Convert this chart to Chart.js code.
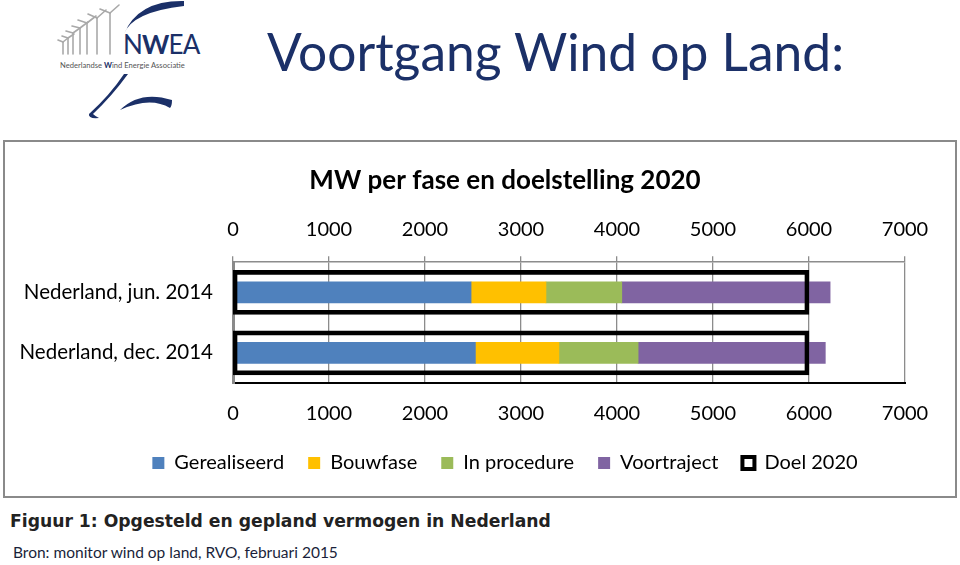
<!DOCTYPE html>
<html>
<head>
<meta charset="utf-8">
<script src="https://cdn.jsdelivr.net/npm/chart.js@4.4.1/dist/chart.umd.min.js"></script>
<style>
  html, body { margin: 0; padding: 0; background: #fff; }
  body { width: 960px; height: 565px; position: relative; overflow: hidden; font-family: Lato, "Open Sans", sans-serif; }
  #logo { position: absolute; left: 0; top: 0; }
  #pageTitle { position: absolute; left: 267px; top: 26px; margin: 0; font-weight: 400; font-size: 51.5px; line-height: 1; color: #1b3068; white-space: nowrap; }
  #chartBox { position: absolute; left: 3px; top: 140px; width: 950px; height: 354px; border: 2px solid #8a8a8a; background: #fff; }
  /* canvas is a bit wider than the box so the title and legend centre like the original */
  #chartWrap { position: absolute; left: 7px; top: 0; width: 986px; height: 354px; }
  #figCaption { position: absolute; left: 10px; top: 511px; margin: 0; font-family: "DejaVu Sans", Verdana, sans-serif; font-weight: bold; font-size: 17.2px; color: #222; white-space: nowrap; }
  #source { position: absolute; left: 13px; top: 543px; margin: 0; font-size: 15.5px; color: #1a1f3a; white-space: nowrap; }
</style>
</head>
<body>
<svg id="logo" width="220" height="125" viewBox="0 0 220 125">
  <g stroke="#a9a9a9" stroke-width="1.6" fill="none" stroke-linecap="round">
    <line x1="63" y1="54" x2="63" y2="42"/><line x1="63" y1="42" x2="58" y2="40"/><line x1="63" y1="42" x2="68" y2="38"/>
    <line x1="68" y1="54" x2="68" y2="38"/><line x1="68" y1="38" x2="62" y2="36"/><line x1="68" y1="38" x2="74" y2="34"/>
    <line x1="73" y1="54" x2="73" y2="33"/><line x1="73" y1="33" x2="66" y2="31"/><line x1="73" y1="33" x2="80" y2="28"/>
    <line x1="80" y1="54" x2="80" y2="28"/><line x1="80" y1="28" x2="72" y2="26"/><line x1="80" y1="28" x2="88" y2="22"/>
    <line x1="87" y1="54" x2="87" y2="23"/><line x1="87" y1="23" x2="78" y2="20"/><line x1="87" y1="23" x2="96" y2="16"/>
    <line x1="97" y1="54" x2="97" y2="18"/><line x1="97" y1="18" x2="88" y2="14"/><line x1="97" y1="18" x2="106" y2="10"/>
    <line x1="110" y1="54" x2="110" y2="13"/><line x1="110" y1="13" x2="100" y2="9"/><line x1="110" y1="13" x2="119" y2="5"/>
  </g>
  <path d="M184 1 Q138 0 124 34 Q132 12 184 6 Z" fill="#1b3068"/>
  <path d="M124 74 Q110 95 89 114 Q88 119 99 118 Q95 116 93 114 Q112 96 128 74 Z" fill="#1b3068"/>
  <path d="M120 110 Q140 90 172 100 Q172 106 170 108 Q150 96 120 110 Z" fill="#1b3068"/>
  <text x="123" y="54" font-family="Lato, sans-serif" font-size="26" letter-spacing="-0.8" fill="#1b3068"><tspan>N</tspan><tspan font-weight="bold">W</tspan><tspan>EA</tspan></text>
  <text x="60" y="68" font-family="Lato, sans-serif" font-size="7.6" fill="#555">Nederlandse <tspan font-weight="bold" fill="#1b3068">W</tspan>ind Energie Associatie</text>
</svg>
<h1 id="pageTitle">Voortgang Wind op Land:</h1>
<div id="chartBox">
  <div id="chartWrap"><canvas id="windChart"></canvas></div>
</div>
<p id="figCaption">Figuur 1: Opgesteld en gepland vermogen in Nederland</p>
<p id="source">Bron: monitor wind op land, RVO, februari 2015</p>

<script>
// data (MW)
const categories = ['Nederland, jun. 2014', 'Nederland, dec. 2014'];
const gerealiseerd = [2480, 2525];
const bouwfase = [780, 870];
const inProcedure = [790, 825];
const voortraject = [2170, 1950];
const doel2020 = [6000, 6000];
const axisMin = 0;
const axisMax = 7000;
const axisStep = 1000;

const FONT = 'Lato, "Open Sans", sans-serif';

function phase(label, data, color) {
    return {
        label: label,
        data: data,
        backgroundColor: color,
        borderWidth: 0,
        barThickness: 21,
        grouped: false,
        stack: 'fase',
        order: 1
    };
}

const datasets = [
    phase('Gerealiseerd', gerealiseerd, '#4f81bd'),
    phase('Bouwfase', bouwfase, '#ffc000'),
    phase('In procedure', inProcedure, '#9bbb59'),
    phase('Voortraject', voortraject, '#8064a2'),
    {
        label: 'Doel 2020',
        data: doel2020,
        backgroundColor: 'rgba(255,255,255,0)',
        borderColor: '#000',
        borderWidth: 4,
        borderSkipped: false,
        barThickness: 44,
        grouped: false,
        stack: 'doel',
        order: 0
    }
];

const tickFont = { family: FONT, size: 20 };
const plainNumber = (value) => String(value);

new Chart(document.getElementById('windChart'), {
    type: 'bar',
    data: { labels: categories, datasets: datasets },
    options: {
        indexAxis: 'y',
        responsive: true,
        maintainAspectRatio: false,
        animation: false,
        layout: { padding: { top: 0, left: 0, right: 0, bottom: 13 } },
        scales: {
            x: {
                position: 'bottom',
                stacked: true,
                min: axisMin,
                max: axisMax,
                ticks: { stepSize: axisStep, color: '#000', font: tickFont, padding: 19, callback: plainNumber },
                grid: { display: false, drawTicks: false },
                border: { display: true, color: '#000', width: 2 },
                afterFit: (scale) => { scale.height = 46; }
            },
            x2: {
                position: 'top',
                axis: 'x',
                type: 'linear',
                min: axisMin,
                max: axisMax,
                ticks: { stepSize: axisStep, color: '#000', font: tickFont, padding: 15, callback: plainNumber },
                grid: { color: '#8c8c8c', lineWidth: 1.3, drawTicks: true, tickLength: 6 },
                border: { display: true, color: '#8c8c8c', width: 1.5 },
                afterFit: (scale) => { scale.height = 56; }
            },
            y: {
                stacked: true,
                ticks: { color: '#000', font: { family: FONT, size: 20.5 }, padding: 20 },
                grid: { display: false, drawTicks: false },
                border: { display: true, color: '#8a8a8a', width: 3 },
                afterFit: (scale) => { scale.width = 221; }
            },
            yRight: {
                position: 'right',
                type: 'category',
                labels: categories,
                ticks: { display: false },
                grid: { display: false, drawTicks: false },
                border: { display: false },
                afterFit: (scale) => { scale.width = 93; }
            }
        },
        plugins: {
            title: {
                display: true,
                text: 'MW per fase en doelstelling 2020',
                color: '#000',
                font: { family: FONT, size: 26, weight: 'bold' },
                padding: { top: 23, bottom: 10 }
            },
            legend: {
                position: 'bottom',
                labels: {
                    color: '#000',
                    font: { family: FONT, size: 20 },
                    boxWidth: 12,
                    boxHeight: 12,
                    padding: 24,
                    sort: (a, b) => a.datasetIndex - b.datasetIndex
                }
            },
            tooltip: { enabled: false }
        }
    }
});
</script>
</body>
</html>
